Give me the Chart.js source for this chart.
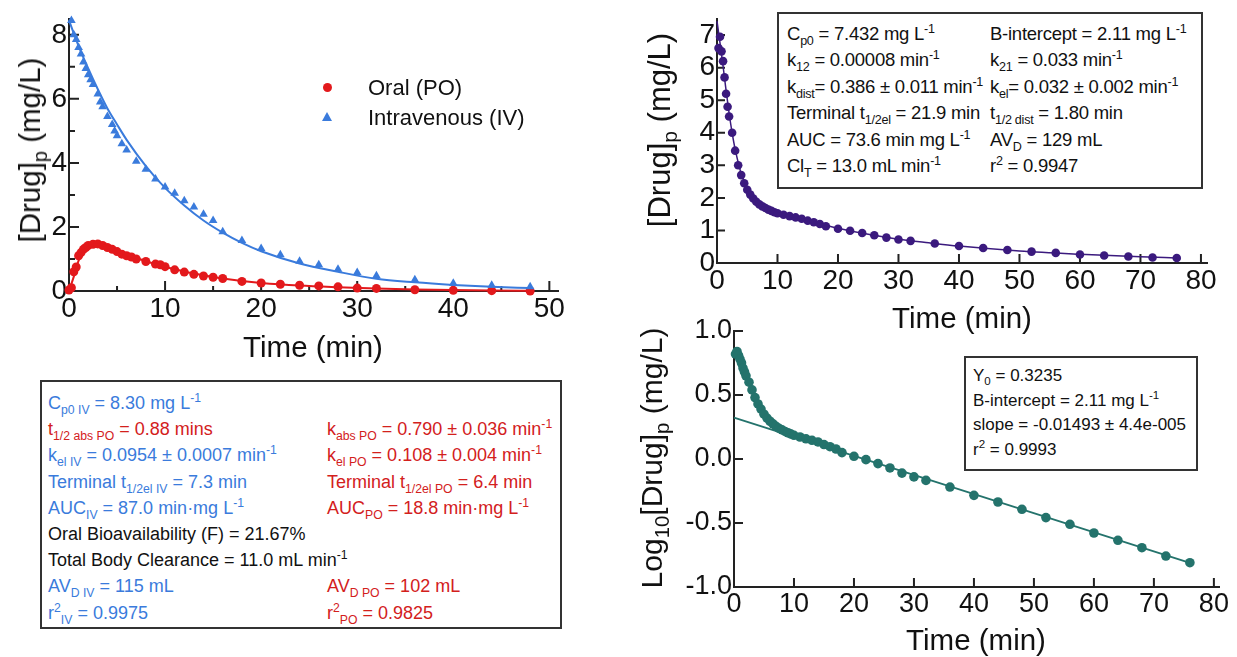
<!DOCTYPE html>
<html>
<head>
<meta charset="utf-8">
<script src="https://cdn.jsdelivr.net/npm/chart.js@4.4.1/dist/chart.umd.min.js"></script>
<style>
  body { margin: 0; width: 1237px; height: 657px; position: relative; background: #fff; overflow: hidden;
         font-family: "Liberation Sans", Arial, sans-serif; color: #111; }
  canvas { position: absolute; }
  .title { position: absolute; transform: translate(-50%, -50%); white-space: nowrap; font-size: 29.5px; }
  .ytitle { position: absolute; transform: translate(-50%, -50%) rotate(-90deg); white-space: nowrap; font-size: 29.5px; }
  .box { position: absolute; border: 2px solid #333; box-sizing: border-box; background: #fff; }
  .row { position: absolute; white-space: nowrap; height: 26px; line-height: 26px; }
  sub, sup { font-size: 68%; line-height: 0; }
  .b { color: #3a7bdc; }
  .r { color: #d3201c; }
  .k { color: #111; }
  .legend { position: absolute; font-size: 22px; white-space: nowrap; transform: translateY(-50%); }
</style>
</head>
<body>

<canvas id="c1" width="570" height="365" style="left:0;top:0"></canvas>
<canvas id="c2" width="600" height="340" style="left:620px;top:0"></canvas>
<canvas id="c3" width="610" height="347" style="left:620px;top:310px"></canvas>

<!-- titres des axes -->
<div class="ytitle" style="left:30px;top:150px">[Drug]<sub>p</sub> (mg/L)</div>
<div class="title" style="left:313px;top:347px">Time (min)</div>
<div class="ytitle" style="left:660px;top:130px;font-size:31px">[Drug]<sub>p</sub> (mg/L)</div>
<div class="title" style="left:962px;top:318px">Time (min)</div>
<div class="ytitle" style="left:652px;top:458px;font-size:30px">Log<sub>10</sub>[Drug]<sub>p</sub> (mg/L)</div>
<div class="title" style="left:976px;top:640px">Time (min)</div>

<!-- légende -->
<div style="position:absolute;left:323px;top:83px;width:9px;height:9px;border-radius:50%;background:#e3191c"></div>
<div class="legend" style="left:368px;top:88px">Oral (PO)</div>
<div style="position:absolute;left:322px;top:112px;width:0;height:0;border-left:5px solid transparent;border-right:5px solid transparent;border-bottom:9px solid #3a7bdc"></div>
<div class="legend" style="left:368px;top:118px">Intravenous (IV)</div>

<!-- boîte de paramètres gauche -->
<div class="box" style="left:40px;top:380px;width:522px;height:249px;font-size:18px">
  <div class="row b" style="left:6px;top:8px">C<sub>p0 IV</sub> = 8.30 mg L<sup>-1</sup></div>
  <div class="row r" style="left:6px;top:34px">t<sub>1/2 abs PO</sub> = 0.88 mins</div>
  <div class="row r" style="left:285px;top:34px">k<sub>abs PO</sub> = 0.790 ± 0.036 min<sup>-1</sup></div>
  <div class="row b" style="left:6px;top:60px">k<sub>el IV</sub> = 0.0954 ± 0.0007 min<sup>-1</sup></div>
  <div class="row r" style="left:285px;top:60px">k<sub>el PO</sub> = 0.108 ± 0.004 min<sup>-1</sup></div>
  <div class="row b" style="left:6px;top:87px">Terminal t<sub>1/2el IV</sub> = 7.3 min</div>
  <div class="row r" style="left:285px;top:87px">Terminal t<sub>1/2el PO</sub> = 6.4 min</div>
  <div class="row b" style="left:6px;top:113px">AUC<sub>IV</sub> = 87.0 min·mg L<sup>-1</sup></div>
  <div class="row r" style="left:285px;top:113px">AUC<sub>PO</sub> = 18.8 min·mg L<sup>-1</sup></div>
  <div class="row k" style="left:6px;top:139px">Oral Bioavailability (F) = 21.67%</div>
  <div class="row k" style="left:6px;top:165px">Total Body Clearance = 11.0 mL min<sup>-1</sup></div>
  <div class="row b" style="left:6px;top:191px">AV<sub>D IV</sub> = 115 mL</div>
  <div class="row r" style="left:285px;top:191px">AV<sub>D PO</sub> = 102 mL</div>
  <div class="row b" style="left:6px;top:218px">r<sup>2</sup><sub>IV</sub> = 0.9975</div>
  <div class="row r" style="left:285px;top:218px">r<sup>2</sup><sub>PO</sub> = 0.9825</div>
</div>

<!-- boîte de paramètres haut droite -->
<div class="box" style="left:777px;top:12px;width:426px;height:177px;font-size:18.5px;letter-spacing:-0.25px">
  <div class="row" style="left:8px;top:7px">C<sub>p0</sub> = 7.432 mg L<sup>-1</sup></div>
  <div class="row" style="left:211px;top:7px">B-intercept = 2.11 mg L<sup>-1</sup></div>
  <div class="row" style="left:8px;top:33px">k<sub>12</sub> = 0.00008 min<sup>-1</sup></div>
  <div class="row" style="left:211px;top:33px">k<sub>21</sub> = 0.033 min<sup>-1</sup></div>
  <div class="row" style="left:8px;top:60px">k<sub>dist</sub>= 0.386 ± 0.011 min<sup>-1</sup></div>
  <div class="row" style="left:211px;top:60px">k<sub>el</sub>= 0.032 ± 0.002 min<sup>-1</sup></div>
  <div class="row" style="left:8px;top:86px">Terminal t<sub>1/2el</sub> = 21.9 min</div>
  <div class="row" style="left:211px;top:86px">t<sub>1/2 dist</sub> = 1.80 min</div>
  <div class="row" style="left:8px;top:113px">AUC = 73.6 min mg L<sup>-1</sup></div>
  <div class="row" style="left:211px;top:113px">AV<sub>D</sub> = 129 mL</div>
  <div class="row" style="left:8px;top:139px">Cl<sub>T</sub> = 13.0 mL min<sup>-1</sup></div>
  <div class="row" style="left:211px;top:139px">r<sup>2</sup> = 0.9947</div>
</div>

<!-- boîte de régression bas droite -->
<div class="box" style="left:964px;top:356px;width:234px;height:115px;font-size:17px">
  <div class="row" style="left:7px;top:6px;height:24px;line-height:24px">Y<sub>0</sub> = 0.3235</div>
  <div class="row" style="left:7px;top:31px;height:24px;line-height:24px">B-intercept = 2.11 mg L<sup>-1</sup></div>
  <div class="row" style="left:7px;top:55px;height:24px;line-height:24px">slope = -0.01493 ± 4.4e-005</div>
  <div class="row" style="left:7px;top:80px;height:24px;line-height:24px">r<sup>2</sup> = 0.9993</div>
</div>

<script>
// Données
// Oral (PO)
const poTime = [0, 0.25, 0.5, 0.75, 1, 1.25, 1.5, 1.75, 2, 2.5, 3, 3.5, 4, 4.5, 5, 5.5, 6, 6.5, 7, 8, 9, 9.5, 10, 11, 12, 13, 14, 15, 16, 18, 20, 22, 24, 26, 28, 30, 32, 36, 40, 44, 48];
const poConc = [0.03, 0.1, 0.6, 0.75, 1.1, 1.2, 1.3, 1.36, 1.42, 1.46, 1.47, 1.42, 1.36, 1.3, 1.23, 1.15, 1.1, 1.06, 1.0, 0.92, 0.84, 0.82, 0.76, 0.66, 0.59, 0.52, 0.47, 0.43, 0.39, 0.3, 0.25, 0.21, 0.18, 0.16, 0.13, 0.09, 0.08, 0.04, 0.02, 0.01, 0.0];
const poFitTime = [0, 0.5, 1, 1.5, 2, 2.5, 3, 3.5, 4, 5, 6, 7, 8, 10, 12, 14, 16, 18, 20, 24, 28, 32, 36, 40, 44, 48];
const poFitConc = [0, 0.45, 0.95, 1.22, 1.36, 1.44, 1.46, 1.44, 1.39, 1.26, 1.14, 1.03, 0.93, 0.76, 0.61, 0.49, 0.39, 0.31, 0.25, 0.17, 0.12, 0.08, 0.05, 0.03, 0.015, 0.01];

// Intraveineux (IV)
const ivTime = [0.25, 0.5, 0.75, 1, 1.25, 1.5, 1.75, 2, 2.25, 2.5, 3, 3.25, 3.5, 4, 4.5, 4.75, 5, 5.5, 6, 7, 8, 9, 10, 11, 12, 13, 14, 15, 16, 18, 20, 22, 24, 26, 28, 30, 32, 36, 40, 44, 48];
const ivConc = [8.45, 8.0, 7.85, 7.6, 7.4, 7.15, 6.95, 6.75, 6.6, 6.45, 6.15, 5.9, 5.75, 5.45, 5.2, 5.0, 4.85, 4.6, 4.4, 4.05, 3.8, 3.5, 3.25, 3.05, 2.82, 2.62, 2.4, 2.2, 1.85, 1.58, 1.33, 1.13, 0.93, 0.82, 0.68, 0.58, 0.48, 0.35, 0.24, 0.18, 0.13];
const ivFitTime = [0, 1, 2, 3, 4, 5, 6, 8, 10, 12, 14, 16, 18, 20, 24, 28, 32, 36, 40, 44, 48];
const ivFitConc = [8.45, 7.65, 6.95, 6.3, 5.7, 5.2, 4.72, 3.9, 3.22, 2.67, 2.2, 1.82, 1.5, 1.24, 0.86, 0.6, 0.38, 0.27, 0.19, 0.13, 0.09];

// Modèle bicompartimental
const tcTime = [0.25, 0.5, 0.75, 1, 1.25, 1.5, 1.75, 2, 2.5, 3, 3.5, 4, 4.5, 5, 5.5, 6, 6.5, 7, 7.5, 8, 8.5, 9, 9.5, 10, 11, 12, 13, 14, 15, 16, 17, 18, 20, 22, 24, 26, 28, 30, 32, 36, 40, 44, 48, 52, 56, 60, 64, 68, 72, 76];
const tcConc = [6.6, 6.95, 6.5, 6.2, 5.7, 5.2, 4.8, 4.5, 4.0, 3.45, 3.0, 2.7, 2.45, 2.25, 2.1, 1.98, 1.88, 1.8, 1.74, 1.69, 1.64, 1.6, 1.56, 1.53, 1.48, 1.44, 1.4, 1.36, 1.3, 1.25, 1.2, 1.13, 1.05, 0.99, 0.92, 0.85, 0.78, 0.72, 0.68, 0.6, 0.52, 0.46, 0.4, 0.35, 0.31, 0.26, 0.23, 0.2, 0.17, 0.155];
const tcFitTime = [0, 0.5, 1, 1.5, 2, 2.5, 3, 4, 5, 6, 7, 8, 10, 12, 14, 16, 18, 20, 25, 30, 35, 40, 50, 60, 70, 76];
const tcFitConc = [7.43, 6.75, 6.05, 5.3, 4.6, 4.0, 3.5, 2.75, 2.3, 2.02, 1.84, 1.71, 1.54, 1.44, 1.35, 1.26, 1.16, 1.07, 0.88, 0.73, 0.62, 0.52, 0.37, 0.27, 0.19, 0.155];
const tcLog = [0.82, 0.84, 0.81, 0.78, 0.75, 0.71, 0.68, 0.65, 0.6, 0.54, 0.48, 0.43, 0.39, 0.35, 0.32, 0.295, 0.275, 0.255, 0.24, 0.228, 0.215, 0.205, 0.195, 0.185, 0.172, 0.158, 0.146, 0.133, 0.113, 0.096, 0.078, 0.05, 0.021, -0.005, -0.036, -0.07, -0.11, -0.14, -0.167, -0.219, -0.284, -0.336, -0.393, -0.458, -0.51, -0.578, -0.635, -0.693, -0.758, -0.81];
const logFitTime = [0, 76];
const logFitVal = [0.3235, -0.811];

// Graduations
const xTicks1 = [0, 10, 20, 30, 40, 50];
const xMinor1 = [5, 15, 25, 35, 45];
const yTicks1 = [0, 2, 4, 6, 8];
const yMinor1 = [1, 3, 5, 7];
const xTicks2 = [0, 10, 20, 30, 40, 50, 60, 70, 80];
const yTicks2 = [0, 1, 2, 3, 4, 5, 6, 7];
const xTicks3 = [0, 10, 20, 30, 40, 50, 60, 70, 80];
const yTicks3 = [-1.0, -0.5, 0.0, 0.5, 1.0];

const corAxe = '#222';
const corPO = '#e3191c';
const corIV = '#3a7bdc';
const corRoxo = '#3b1a7e';
const corVerde = '#24736c';

function pts(xs, ys) {
  return xs.map((x, i) => ({ x: x, y: ys[i] }));
}

// Petits traits de graduation vers l'intérieur
const innerTicks = {
  id: 'innerTicks',
  beforeDatasetsDraw(chart, args, o) {
    const { ctx, chartArea: a, scales: { x, y } } = chart;
    ctx.save();
    ctx.strokeStyle = corAxe;
    ctx.lineWidth = 2;
    ctx.beginPath();
    o.x.forEach(([v, len]) => {
      const px = x.getPixelForValue(v);
      ctx.moveTo(px, a.bottom);
      ctx.lineTo(px, a.bottom - len);
    });
    o.y.forEach(([v, len]) => {
      const py = y.getPixelForValue(v);
      ctx.moveTo(a.left, py);
      ctx.lineTo(a.left + len, py);
    });
    ctx.stroke();
    ctx.restore();
  }
};

function eixo(min, max, ticksArr, tamanho, horizontal, fonte, fmt) {
  return {
    type: 'linear',
    min: min,
    max: max,
    grid: { display: false, drawTicks: false },
    border: { display: true, color: corAxe, width: 2 },
    afterBuildTicks: s => { s.ticks = ticksArr.map(v => ({ value: v })); },
    afterFit: s => { if (horizontal) s.height = tamanho; else s.width = tamanho; },
    ticks: {
      padding: horizontal ? 1 : 2,
      color: '#111',
      autoSkip: false,
      maxRotation: 0,
      font: { family: 'Liberation Sans', size: fonte },
      callback: fmt || (v => String(v))
    }
  };
}

function grafico(id, datasets, pad, sx, sy, ticksIn) {
  return new Chart(document.getElementById(id), {
    type: 'scatter',
    data: { datasets: datasets },
    options: {
      responsive: false,
      animation: false,
      events: [],
      layout: { padding: pad },
      plugins: { legend: { display: false }, tooltip: { enabled: false }, innerTicks: ticksIn },
      scales: { x: sx, y: sy }
    },
    plugins: [innerTicks]
  });
}

function linha(data, cor, w) {
  return { data: data, showLine: true, pointRadius: 0, borderColor: cor, borderWidth: w,
           cubicInterpolationMode: 'monotone', clip: false };
}
function pontos(data, cor, estilo, r) {
  return { data: data, showLine: false, pointStyle: estilo, pointRadius: r, backgroundColor: cor,
           borderColor: cor, borderWidth: 0, clip: false };
}

// Gráfico 1 : PO et IV
grafico('c1', [
  linha(pts(ivFitTime, ivFitConc), corIV, 2),
  pontos(pts(ivTime, ivConc), corIV, 'triangle', 5),
  linha(pts(poFitTime, poFitConc), corPO, 2),
  pontos(pts(poTime, poConc), corPO, 'circle', 4.5)
], { top: 8, right: 12, left: 0, bottom: 0 },
  eixo(0, 50.9, xTicks1, 74, true, 28),
  eixo(0, 8.5, yTicks1, 69, false, 28),
  { x: xTicks1.map(v => [v, 10]).concat(xMinor1.map(v => [v, 5])),
    y: yTicks1.map(v => [v, 10]).concat(yMinor1.map(v => [v, 6])) });

// Gráfico 2 : bicompartimental
grafico('c2', [
  linha(pts(tcFitTime, tcFitConc), corRoxo, 1.5),
  pontos(pts(tcTime, tcConc), corRoxo, 'circle', 4.3)
], { top: 8, right: 13, left: 0, bottom: 0 },
  eixo(0, 81, xTicks2, 77, true, 28),
  eixo(0, 7.5, yTicks2, 97, false, 28),
  { x: xTicks2.map(v => [v, 9]), y: yTicks2.map(v => [v, 8]) });

// Gráfico 3 : log10
grafico('c3', [
  linha(pts(logFitTime, logFitVal), corVerde, 1.8),
  pontos(pts(tcTime, tcLog), corVerde, 'circle', 4.8)
], { top: 21, right: 8, left: 0, bottom: 0 },
  eixo(0, 81, xTicks3, 70, true, 27),
  eixo(-1.0, 1.0, yTicks3, 114, false, 27, v => v.toFixed(1)),
  { x: xTicks3.map(v => [v, 9]), y: yTicks3.map(v => [v, 9]) });
</script>
</body>
</html>
